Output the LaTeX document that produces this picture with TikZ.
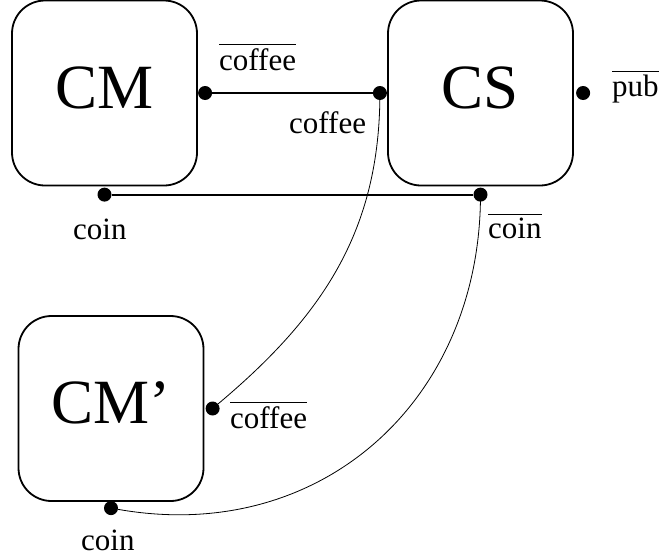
\documentclass[tikz,border=0pt]{standalone}
\usepackage{amsmath}
\usepackage{fontspec}
\setmainfont{Liberation Serif}
\usetikzlibrary{positioning}

\begin{document}
\begin{tikzpicture}[x=1pt, y=1pt,
        every node/.style={font=\fontsize{31}{36}\selectfont},
        proc/.style={rectangle, draw=black, line width=1.8pt, rounded corners=33pt, minimum width=185pt, minimum height=185pt, inner sep=0pt, font=\fontsize{63}{70}\selectfont, text height=44pt, text depth=14pt},
        port/.style={circle, fill=black, inner sep=0pt, minimum size=14pt},
        lbl/.style={anchor=base west, inner sep=0pt},
        chan/.style={line width=1.8pt},
        link/.style={line width=0.8pt}
    ]
        \useasboundingbox (0,0) rectangle (659,-558);

        % Processes
        \node[proc] (cm) at (104.5, -93) {CM};
        \node[proc] (cs) at (480.5, -93) {CS};
        \node[proc] (cmp) at (111, -408.5) {CM'};

        % Ports
        \node[port, right=0pt of cm] (cmcoffee) {};
        \node[port, below=1pt of cm] (cmcoin) {};
        \node[port, left=0pt of cs] (cscoffee) {};
        \node[port, right=2pt of cs] (cspub) {};
        \node[port, below=1pt of cs] (cscoin) {};
        \node[port, right=1pt of cmp] (cmpcoffee) {};
        \node[port, below=-1pt of cmp] (cmpcoin) {};

        % Port names
        \node[lbl] (lcmcoffee) at (219, -70) {$\overline{\text{coffee}}$};
        \node[lbl] (lcscoffee) at (289, -133) {coffee};
        \node[lbl] (lcmcoin) at (73, -239) {coin};
        \node[lbl] (lcscoin) at (488, -238) {$\overline{\text{coin}}$};
        \node[lbl] (lcspub) at (612, -96) {$\overline{\text{pub}}$};
        \node[lbl] (lcmpcoffee) at (230, -428) {$\overline{\text{coffee}}$};
        \node[lbl] (lcmpcoin) at (81, -550) {coin};

        % Channels
        \draw[chan] (cmcoffee) -- (cscoffee);
        \draw[chan] (cmcoin) -- (cscoin);

        % Links to CM'
        \draw[link] (cscoffee.center) to[out=-90, in=40] (cmpcoffee);
        \draw[link] (cscoin.center) to[out=-90, in=-10, looseness=1.1] (cmpcoin);
    \end{tikzpicture}
\end{document}
